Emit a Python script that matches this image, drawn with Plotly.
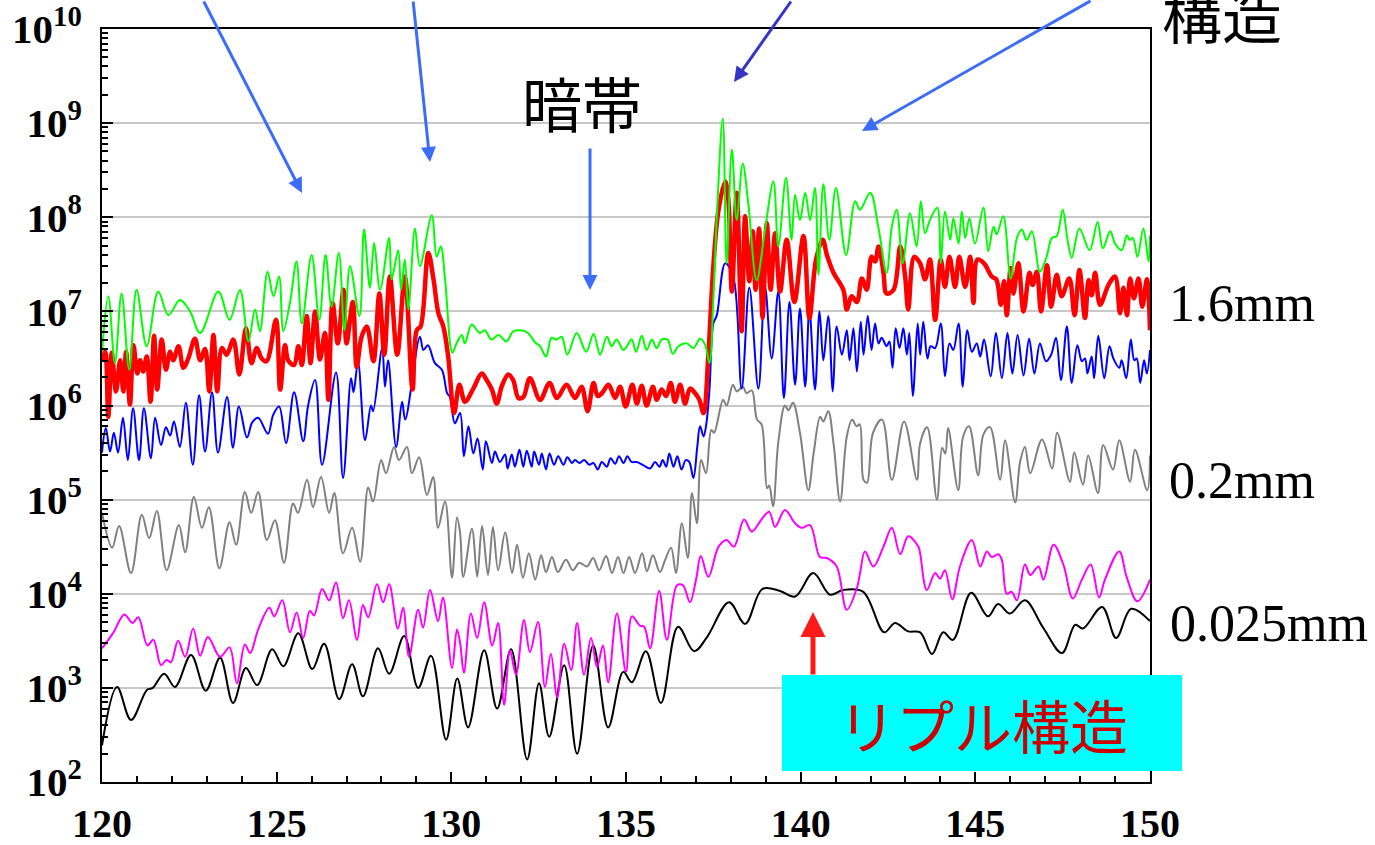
import plotly.graph_objects as go

# Readings as (x, log10 intensity) pairs, x = angle on the horizontal axis
green_pts = [
    (120.0, 6.56), (120.18, 7.16), (120.37, 6.45), (120.56, 7.19), (120.78, 6.38), (120.99, 7.23),
    (121.28, 6.63), (121.61, 7.21), (121.90, 6.96), (122.23, 7.12), (122.52, 7.0), (122.81, 6.77),
    (123.33, 7.21), (123.65, 6.91), (123.95, 7.23), (124.19, 6.68), (124.38, 7.02), (124.52, 6.79),
    (124.74, 7.42), (124.91, 7.16), (125.07, 7.37), (125.19, 6.79), (125.38, 7.09), (125.57, 7.53),
    (125.72, 6.87), (126.00, 7.60), (126.22, 6.91), (126.40, 7.60), (126.57, 7.05), (126.78, 7.62),
    (126.94, 6.80), (127.10, 7.48), (127.37, 6.95), (127.50, 7.87), (127.67, 7.25), (127.79, 7.73),
    (127.96, 7.23), (128.22, 7.78), (128.29, 7.34), (128.48, 7.65), (128.56, 7.23), (128.67, 7.55),
    (128.77, 7.02), (128.96, 7.88), (129.10, 7.48), (129.44, 8.02), (129.58, 7.58), (129.70, 7.69),
    (129.82, 7.34), (130.03, 6.56), (130.15, 6.66), (130.30, 6.75), (130.39, 6.66), (130.58, 6.86),
    (130.82, 6.77), (130.96, 6.80), (131.15, 6.70), (131.35, 6.75), (131.58, 6.68), (131.78, 6.79),
    (132.16, 6.78), (132.40, 6.67), (132.54, 6.63), (132.71, 6.52), (132.87, 6.72), (133.01, 6.70),
    (133.16, 6.73), (133.32, 6.54), (133.59, 6.77), (133.86, 6.57), (134.07, 6.76), (134.26, 6.54),
    (134.45, 6.73), (134.59, 6.63), (134.73, 6.70), (134.93, 6.59), (135.16, 6.70), (135.29, 6.57),
    (135.45, 6.74), (135.59, 6.59), (135.74, 6.70), (135.88, 6.61), (136.02, 6.70), (136.19, 6.70),
    (136.34, 6.55), (136.50, 6.63), (136.74, 6.66), (136.93, 6.61), (137.12, 6.71), (137.26, 6.65),
    (137.39, 6.45), (137.50, 7.12), (137.60, 8.01), (137.77, 9.05), (137.88, 7.51), (138.03, 8.72),
    (138.17, 7.97), (138.34, 8.57), (138.50, 8.15), (138.74, 7.33), (138.98, 7.87), (139.22, 8.38),
    (139.36, 7.69), (139.58, 8.42), (139.74, 7.76), (139.84, 8.24), (139.98, 7.97), (140.13, 8.26),
    (140.27, 7.97), (140.41, 8.31), (140.51, 7.39), (140.65, 8.35), (140.82, 7.76), (141.01, 8.31),
    (141.30, 7.60), (141.56, 8.17), (141.70, 8.08), (141.99, 8.26), (142.23, 7.88), (142.46, 7.41),
    (142.61, 7.90), (142.75, 8.08), (142.92, 7.51), (143.13, 8.04), (143.32, 7.69), (143.44, 8.17),
    (143.56, 7.83), (143.70, 7.97), (143.91, 8.10), (144.01, 7.51), (144.13, 8.06), (144.28, 7.76),
    (144.37, 7.99), (144.52, 7.72), (144.61, 8.06), (144.71, 7.78), (144.83, 7.99), (144.99, 7.72),
    (145.23, 8.10), (145.37, 7.64), (145.52, 7.90), (145.61, 7.82), (145.80, 8.01), (146.01, 7.35),
    (146.19, 7.78), (146.33, 7.87), (146.47, 7.76), (146.62, 7.85), (146.85, 7.42), (147.04, 7.58),
    (147.19, 7.78), (147.33, 7.80), (147.50, 8.08), (147.64, 7.76), (147.76, 7.57), (147.98, 7.88),
    (148.27, 7.65), (148.50, 7.95), (148.65, 7.67), (148.86, 7.85), (149.00, 7.72), (149.19, 7.65),
    (149.34, 7.81), (149.41, 7.76), (149.51, 7.78), (149.64, 7.58), (149.81, 7.88), (149.96, 7.53),
    (150.0, 7.80),
]

red_pts = [
    (120.0, 6.48), (120.09, 6.57), (120.18, 5.88), (120.28, 6.56), (120.40, 6.15), (120.52, 6.48),
    (120.61, 6.15), (120.69, 6.57), (120.80, 6.01), (120.90, 6.64), (121.01, 6.34), (121.09, 6.48),
    (121.18, 6.36), (121.28, 6.52), (121.39, 6.04), (121.49, 6.74), (121.58, 6.17), (121.71, 6.70),
    (121.83, 6.38), (121.95, 6.57), (122.04, 6.48), (122.19, 6.63), (122.33, 6.40), (122.47, 6.50),
    (122.66, 6.71), (122.81, 6.48), (122.95, 6.60), (123.07, 6.15), (123.19, 6.75), (123.30, 6.15),
    (123.43, 6.61), (123.57, 6.54), (123.76, 6.70), (123.93, 6.33), (124.12, 6.82), (124.28, 6.45),
    (124.43, 6.61), (124.57, 6.50), (124.71, 6.47), (124.98, 6.91), (125.10, 6.17), (125.24, 6.64),
    (125.33, 6.48), (125.50, 6.43), (125.62, 6.63), (125.72, 6.43), (125.86, 6.95), (125.97, 6.45),
    (126.10, 7.00), (126.24, 6.49), (126.38, 6.77), (126.48, 6.06), (126.60, 7.09), (126.75, 6.66),
    (126.91, 7.23), (127.00, 6.66), (127.18, 7.10), (127.29, 6.41), (127.43, 6.73), (127.58, 6.84),
    (127.77, 6.47), (127.94, 7.19), (128.08, 6.54), (128.24, 7.37), (128.45, 6.54), (128.67, 7.37),
    (128.89, 6.17), (129.01, 6.80), (129.12, 6.84), (129.34, 7.62), (129.49, 7.34), (129.63, 6.98),
    (129.77, 6.84), (129.91, 6.52), (130.08, 5.92), (130.23, 6.22), (130.39, 6.04), (130.63, 6.18),
    (130.87, 6.34), (131.01, 6.27), (131.16, 6.17), (131.30, 6.02), (131.44, 6.20), (131.63, 6.33),
    (131.77, 6.27), (131.92, 6.08), (132.06, 6.09), (132.25, 6.29), (132.54, 6.06), (132.81, 6.24),
    (133.02, 6.08), (133.30, 6.22), (133.54, 6.08), (133.73, 6.20), (133.90, 5.94), (134.07, 6.24),
    (134.19, 6.10), (134.31, 6.13), (134.50, 6.22), (134.69, 6.08), (134.83, 6.20), (134.99, 5.99),
    (135.18, 6.22), (135.31, 6.02), (135.45, 6.21), (135.59, 6.00), (135.77, 6.20), (135.88, 6.06),
    (136.02, 6.17), (136.15, 6.10), (136.28, 6.24), (136.40, 6.04), (136.55, 6.22), (136.69, 6.02),
    (136.83, 6.18), (136.98, 6.13), (137.10, 6.06), (137.22, 5.92), (137.36, 6.56), (137.50, 7.48),
    (137.65, 8.08), (137.84, 8.38), (137.93, 8.18), (138.03, 7.21), (138.17, 8.26), (138.31, 6.79),
    (138.41, 8.01), (138.53, 7.32), (138.63, 7.85), (138.71, 7.23), (138.81, 7.88), (138.91, 6.93),
    (139.03, 7.94), (139.14, 7.23), (139.27, 7.83), (139.41, 7.21), (139.60, 7.76), (139.82, 7.10),
    (140.08, 7.80), (140.25, 6.93), (140.44, 7.55), (140.63, 7.76), (140.75, 7.60), (140.94, 7.41),
    (141.22, 7.23), (141.32, 7.02), (141.46, 7.16), (141.61, 7.10), (141.75, 7.35), (141.89, 7.23),
    (142.03, 7.58), (142.13, 7.53), (142.23, 7.69), (142.37, 7.41), (142.46, 7.19), (142.66, 7.23),
    (142.85, 7.69), (142.99, 7.37), (143.08, 7.02), (143.25, 7.58), (143.42, 7.51), (143.56, 7.34),
    (143.70, 7.55), (143.85, 6.91), (144.01, 7.55), (144.13, 7.26), (144.26, 7.58), (144.42, 7.26),
    (144.54, 7.58), (144.71, 7.26), (144.85, 7.58), (144.95, 7.09), (145.06, 7.55), (145.25, 7.51),
    (145.47, 7.37), (145.60, 7.34), (145.73, 7.07), (145.82, 7.32), (145.90, 6.96), (146.01, 7.46),
    (146.09, 7.19), (146.23, 7.51), (146.38, 7.00), (146.55, 7.41), (146.64, 7.28), (146.76, 7.42),
    (146.88, 7.00), (147.05, 7.49), (147.17, 7.05), (147.33, 7.39), (147.47, 7.16), (147.69, 7.35),
    (147.84, 6.96), (147.98, 7.44), (148.14, 6.93), (148.24, 7.33), (148.33, 7.17), (148.43, 7.41),
    (148.57, 7.07), (148.81, 7.28), (149.00, 7.37), (149.14, 6.98), (149.24, 7.25), (149.34, 6.96),
    (149.43, 7.35), (149.54, 7.14), (149.67, 7.35), (149.78, 7.05), (149.91, 7.34), (150.0, 6.80),
]

blue_pts = [
    (120.0, 5.50), (120.11, 5.76), (120.23, 5.51), (120.34, 5.71), (120.46, 5.50), (120.6, 5.87),
    (120.74, 5.42), (120.89, 5.97), (121.06, 5.42), (121.2, 5.97), (121.4, 5.44), (121.52, 5.87),
    (121.69, 5.58), (121.83, 5.77), (121.95, 5.68), (122.06, 5.83), (122.23, 5.56), (122.4, 6.03),
    (122.6, 5.37), (122.78, 6.11), (122.95, 5.51), (123.15, 6.14), (123.32, 5.50), (123.58, 6.09),
    (123.75, 5.55), (123.92, 5.99), (124.15, 5.66), (124.3, 5.82), (124.47, 5.87), (124.75, 5.70),
    (124.9, 5.90), (125.07, 5.99), (125.27, 5.60), (125.5, 6.14), (125.76, 5.62), (125.9, 6.0),
    (126.1, 6.27), (126.3, 5.37), (126.7, 6.35), (126.9, 5.23), (127.13, 6.29), (127.2, 6.14),
    (127.33, 6.46), (127.53, 5.63), (127.7, 6.0), (127.76, 5.94), (128.02, 6.61), (128.1, 6.2),
    (128.19, 6.48), (128.42, 5.56), (128.59, 6.04), (128.68, 5.85), (129.1, 6.73), (129.2, 6.59),
    (129.33, 6.64), (129.53, 6.45), (129.73, 6.38), (129.88, 6.13), (129.96, 6.09), (130.1, 5.81),
    (130.25, 5.92), (130.36, 5.46), (130.49, 5.78), (130.63, 5.49), (130.75, 5.65), (130.90, 5.32),
    (130.99, 5.62), (131.16, 5.39), (131.25, 5.51), (131.39, 5.40), (131.54, 5.48), (131.61, 5.33),
    (131.73, 5.48), (131.82, 5.35), (131.95, 5.53), (132.06, 5.35), (132.16, 5.52), (132.30, 5.35),
    (132.37, 5.51), (132.51, 5.37), (132.59, 5.49), (132.71, 5.32), (132.81, 5.49), (132.94, 5.37),
    (133.06, 5.46), (133.21, 5.37), (133.32, 5.45), (133.45, 5.39), (133.54, 5.42), (133.67, 5.39),
    (133.80, 5.42), (133.95, 5.37), (134.07, 5.39), (134.19, 5.32), (134.31, 5.40), (134.45, 5.35),
    (134.56, 5.44), (134.69, 5.38), (134.80, 5.46), (134.93, 5.39), (135.04, 5.46), (135.16, 5.40),
    (135.31, 5.40), (135.48, 5.37), (135.69, 5.33), (135.83, 5.40), (135.96, 5.35), (136.05, 5.42),
    (136.15, 5.35), (136.24, 5.49), (136.36, 5.35), (136.47, 5.46), (136.59, 5.32), (136.71, 5.42),
    (136.81, 5.40), (136.93, 5.23), (137.04, 5.56), (137.12, 5.78), (137.22, 5.67), (137.29, 5.78),
    (137.39, 6.17), (137.50, 6.87), (137.60, 6.96), (137.84, 7.51), (138.07, 7.37), (138.31, 6.18),
    (138.53, 7.25), (138.79, 6.18), (138.98, 7.26), (139.17, 6.50), (139.36, 7.21), (139.52, 6.08),
    (139.68, 7.10), (139.84, 6.22), (139.98, 7.03), (140.13, 6.20), (140.25, 7.02), (140.41, 6.17),
    (140.54, 7.00), (140.65, 6.48), (140.79, 6.95), (140.92, 6.15), (141.03, 6.84), (141.18, 6.54),
    (141.32, 6.80), (141.40, 6.48), (141.51, 6.82), (141.61, 6.36), (141.72, 6.89), (141.80, 6.54),
    (141.92, 6.95), (142.03, 6.59), (142.13, 6.87), (142.23, 6.66), (142.32, 6.72), (142.46, 6.63),
    (142.54, 6.68), (142.63, 6.40), (142.72, 6.82), (142.83, 6.61), (142.94, 6.82), (143.04, 6.54),
    (143.11, 6.77), (143.21, 6.10), (143.35, 6.87), (143.42, 6.54), (143.51, 6.89), (143.63, 6.50),
    (143.72, 6.63), (143.85, 6.61), (144.01, 6.87), (144.13, 6.31), (144.26, 6.66), (144.37, 6.59),
    (144.52, 6.87), (144.64, 6.20), (144.77, 6.80), (144.90, 6.57), (145.04, 6.66), (145.14, 6.52),
    (145.25, 6.70), (145.44, 6.31), (145.59, 6.77), (145.76, 6.29), (145.92, 6.77), (146.06, 6.34),
    (146.21, 6.75), (146.38, 6.32), (146.54, 6.71), (146.69, 6.34), (146.85, 6.66), (147.02, 6.47),
    (147.17, 6.54), (147.31, 6.72), (147.45, 6.27), (147.62, 6.84), (147.76, 6.24), (147.92, 6.64),
    (148.05, 6.47), (148.14, 6.50), (148.21, 6.34), (148.33, 6.52), (148.40, 6.29), (148.52, 6.74),
    (148.69, 6.29), (148.84, 6.63), (148.95, 6.50), (149.12, 6.40), (149.19, 6.48), (149.32, 6.29),
    (149.45, 6.70), (149.55, 6.48), (149.62, 6.50), (149.72, 6.24), (149.83, 6.48), (149.91, 6.34),
    (150.0, 6.59),
]

gray_pts = [
    (120.0, 4.86), (120.29, 4.49), (120.49, 4.72), (120.83, 4.22), (121.14, 4.84), (121.35, 4.59),
    (121.57, 4.88), (121.85, 4.25), (122.2, 4.73), (122.38, 4.44), (122.63, 5.03), (122.86, 4.70),
    (123.06, 4.92), (123.36, 4.27), (123.65, 4.76), (123.84, 4.52), (124.09, 5.08), (124.27, 4.86),
    (124.47, 5.08), (124.72, 4.57), (124.95, 4.78), (125.21, 4.33), (125.47, 4.96), (125.61, 4.86),
    (125.87, 5.21), (126.04, 4.92), (126.27, 5.24), (126.5, 4.86), (126.65, 5.07), (126.9, 4.43),
    (127.16, 4.70), (127.39, 4.34), (127.62, 5.13), (127.76, 4.98), (127.99, 5.42), (128.13, 5.28),
    (128.36, 5.56), (128.5, 5.42), (128.73, 5.56), (128.87, 5.28), (129.08, 5.45), (129.3, 5.05),
    (129.48, 5.24), (129.62, 4.70), (129.82, 4.98), (130.02, 4.17), (130.16, 4.81), (130.25, 4.65),
    (130.34, 4.18), (130.59, 4.69), (130.74, 4.18), (130.88, 4.72), (131.05, 4.20), (131.19, 4.71),
    (131.34, 4.25), (131.54, 4.65), (131.74, 4.22), (131.88, 4.52), (132.05, 4.17), (132.22, 4.43),
    (132.4, 4.15), (132.57, 4.41), (132.71, 4.23), (132.88, 4.39), (133.05, 4.23), (133.28, 4.36),
    (133.48, 4.25), (133.66, 4.33), (133.88, 4.29), (134.06, 4.38), (134.23, 4.25), (134.43, 4.40),
    (134.6, 4.22), (134.77, 4.39), (134.93, 4.22), (135.09, 4.39), (135.26, 4.22), (135.46, 4.43),
    (135.6, 4.24), (135.77, 4.41), (135.97, 4.23), (136.12, 4.36), (136.29, 4.49), (136.43, 4.22),
    (136.6, 4.75), (136.77, 4.38), (136.89, 5.07), (137.03, 4.75), (137.15, 5.42), (137.29, 5.28),
    (137.44, 5.74), (137.52, 5.71), (137.78, 6.06), (137.88, 6.0), (138.06, 6.22), (138.17, 6.15),
    (138.35, 6.2), (138.45, 6.13), (138.6, 6.16), (138.75, 5.85), (138.88, 5.80), (139.04, 5.12),
    (139.1, 5.15), (139.21, 4.93), (139.36, 5.61), (139.55, 6.0), (139.65, 5.95), (139.78, 6.03),
    (139.98, 5.71), (140.22, 5.10), (140.37, 5.49), (140.56, 5.88), (140.65, 5.83), (140.79, 5.94),
    (140.94, 5.60), (141.13, 4.98), (141.32, 5.67), (141.47, 5.85), (141.6, 5.78), (141.69, 5.80),
    (141.8, 5.21), (141.9, 5.18), (142.07, 5.71), (142.33, 5.85), (142.61, 5.21), (142.96, 5.83),
    (143.33, 5.21), (143.42, 5.60), (143.62, 5.77), (143.9, 5.0), (144.05, 5.55), (144.14, 5.49),
    (144.22, 5.76), (144.51, 5.10), (144.65, 5.67), (144.82, 5.78), (145.08, 5.26), (145.23, 5.69),
    (145.42, 5.77), (145.71, 5.21), (145.85, 5.63), (146.14, 4.97), (146.28, 5.40), (146.42, 5.56),
    (146.57, 5.28), (146.91, 5.64), (147.2, 5.33), (147.34, 5.71), (147.71, 5.19), (147.83, 5.50),
    (148.08, 5.16), (148.23, 5.47), (148.51, 5.07), (148.66, 5.58), (148.94, 5.32), (149.12, 5.63),
    (149.43, 5.19), (149.57, 5.53), (149.92, 5.10), (150.0, 5.47),
]

magenta_pts = [
    (120.0, 3.42), (120.33, 3.59), (120.64, 3.78), (120.87, 3.69), (121.04, 3.75), (121.3, 3.45),
    (121.47, 3.51), (121.69, 3.24), (121.85, 3.30), (121.97, 3.27), (122.18, 3.50), (122.38, 3.33),
    (122.61, 3.63), (122.81, 3.34), (123.03, 3.54), (123.38, 3.33), (123.65, 3.43), (123.86, 3.05),
    (124.09, 3.46), (124.24, 3.37), (124.47, 3.62), (124.79, 3.85), (124.93, 3.76), (125.16, 3.93),
    (125.38, 3.59), (125.57, 3.80), (125.76, 3.53), (125.95, 3.82), (126.07, 3.77), (126.30, 4.05),
    (126.5, 3.93), (126.7, 4.12), (126.9, 3.74), (127.07, 3.93), (127.3, 3.51), (127.47, 3.88),
    (127.62, 3.75), (127.87, 4.10), (128.05, 3.91), (128.22, 4.10), (128.47, 3.63), (128.62, 3.85),
    (128.79, 3.33), (129.05, 3.83), (129.19, 3.64), (129.39, 4.04), (129.62, 3.71), (129.76, 3.96),
    (130.02, 3.21), (130.16, 3.62), (130.25, 3.48), (130.36, 3.16), (130.56, 3.79), (130.74, 3.53),
    (130.94, 3.91), (131.17, 3.45), (131.34, 3.69), (131.51, 2.82), (131.68, 3.40), (131.85, 3.14),
    (132.08, 3.72), (132.25, 3.38), (132.48, 3.70), (132.68, 3.01), (132.85, 3.36), (133.03, 2.90),
    (133.23, 3.47), (133.43, 3.19), (133.6, 3.69), (133.8, 3.14), (134.0, 3.53), (134.17, 3.22),
    (134.34, 3.45), (134.49, 3.06), (134.74, 3.79), (135.0, 3.17), (135.17, 3.76), (135.4, 3.66),
    (135.52, 3.65), (135.69, 3.42), (135.95, 4.03), (136.17, 3.51), (136.46, 4.09), (136.63, 4.09),
    (136.83, 3.91), (137.01, 4.16), (137.14, 4.40), (137.36, 4.18), (137.65, 4.50), (137.88, 4.57),
    (138.09, 4.50), (138.38, 4.79), (138.6, 4.66), (138.9, 4.80), (139.1, 4.87), (139.27, 4.71),
    (139.55, 4.89), (139.84, 4.75), (140.03, 4.70), (140.27, 4.73), (140.55, 4.39), (140.75, 4.38),
    (141.03, 4.29), (141.32, 3.83), (141.61, 4.06), (141.7, 4.22), (141.84, 4.45), (142.08, 4.29),
    (142.37, 4.50), (142.61, 4.70), (142.85, 4.42), (143.08, 4.61), (143.37, 4.50), (143.42, 4.43),
    (143.61, 4.04), (143.85, 4.22), (143.99, 4.16), (144.13, 4.25), (144.34, 3.94), (144.56, 4.29),
    (144.9, 4.57), (145.14, 4.29), (145.33, 4.45), (145.47, 4.39), (145.66, 4.42), (145.76, 4.36),
    (145.90, 4.0), (146.04, 4.02), (146.19, 3.93), (146.42, 4.31), (146.57, 4.20), (146.81, 4.29),
    (146.95, 4.15), (147.24, 4.52), (147.52, 4.31), (147.79, 3.95), (148.05, 4.15), (148.30, 4.31),
    (148.54, 3.96), (148.71, 4.15), (149.12, 4.45), (149.33, 4.18), (149.64, 3.92), (150.0, 4.15),
]

black_pts = [
    (120.0, 2.39), (120.43, 3.01), (120.83, 2.66), (121.29, 2.98), (121.45, 3.0), (121.78, 3.15),
    (122.09, 3.01), (122.55, 3.35), (122.97, 2.97), (123.38, 3.32), (123.75, 2.84), (124.12, 3.21),
    (124.44, 3.03), (124.87, 3.41), (125.19, 3.23), (125.62, 3.58), (126.02, 3.20), (126.36, 3.47),
    (126.79, 2.88), (127.16, 3.25), (127.47, 2.91), (127.9, 3.42), (128.22, 3.15), (128.65, 3.55),
    (129.05, 3.0), (129.42, 3.34), (129.85, 2.45), (130.17, 3.1), (130.48, 2.58), (130.94, 3.40),
    (131.31, 2.78), (131.71, 3.41), (132.17, 2.24), (132.51, 3.05), (132.8, 2.48), (133.23, 3.24),
    (133.6, 2.30), (134.06, 3.45), (134.49, 2.58), (134.92, 3.17), (135.17, 3.06), (135.57, 3.39),
    (136.0, 2.84), (136.49, 3.65), (136.95, 3.39), (137.32, 3.54), (137.95, 3.91), (138.41, 3.68),
    (138.9, 4.05), (139.41, 4.03), (139.84, 3.97), (140.36, 4.22), (140.84, 3.99), (141.21, 4.04),
    (141.79, 4.02), (142.39, 3.59), (142.7, 3.69), (143.08, 3.60), (143.42, 3.59), (143.76, 3.36),
    (144.08, 3.59), (144.36, 3.51), (144.88, 4.01), (145.36, 3.76), (145.65, 3.89), (145.99, 3.79),
    (146.42, 3.93), (146.94, 3.64), (147.48, 3.37), (147.86, 3.67), (148.08, 3.63), (148.63, 3.86),
    (149.03, 3.53), (149.46, 3.84), (150.0, 3.71),
]

decades = [2, 3, 4, 5, 6, 7, 8, 9, 10]
x_ticks = [120, 125, 130, 135, 140, 145, 150]

# drawing order: lowest curve first, thick red and green on top
curves = [
    ("0.025mm (black)", black_pts, "#000000", 2),
    ("0.025mm (magenta)", magenta_pts, "#ff00ff", 2),
    ("0.2mm (gray)", gray_pts, "#808080", 2),
    ("0.2mm (blue)", blue_pts, "#0000ff", 2),
    ("1.6mm (red)", red_pts, "#ff0000", 4.5),
    ("1.6mm (green)", green_pts, "#00ff00", 2),
]

fig = go.Figure()
for name, pts, color, width in curves:
    xs = [p[0] for p in pts]
    ys = [10 ** p[1] for p in pts]
    fig.add_trace(go.Scatter(
        x=xs, y=ys, mode="lines", name=name,
        line=dict(color=color, width=width, shape="spline", smoothing=1.0),
        hoverinfo="skip", showlegend=False,
    ))

# plot frame in pixels: left 102, right 1150, top 29, bottom 782
L, R, T, B = 102, 1150, 29, 782


def px(p):
    return (p - L) / (R - L)


def py(p):
    return (B - p) / (B - T)


fig.update_layout(
    width=1375, height=845,
    margin=dict(l=L, r=1375 - R, t=T, b=845 - B, autoexpand=False),
    paper_bgcolor="white", plot_bgcolor="white",
    xaxis=dict(
        range=[120, 150], tickmode="array", tickvals=x_ticks,
        ticktext=[str(v) for v in x_ticks],
        ticks="inside", ticklen=10, tickwidth=1.5, tickcolor="black",
        minor=dict(tick0=120, dtick=1, ticks="inside", ticklen=6, tickwidth=1.5, tickcolor="black"),
        showgrid=False, zeroline=False,
        showline=True, linecolor="black", linewidth=2, mirror=True,
        tickfont=dict(family="Liberation Serif", size=40, color="black", weight="bold"),
        ticklabelstandoff=5,
    ),
    yaxis=dict(
        type="log", range=[2, 10], tickmode="array",
        tickvals=[10 ** d for d in decades],
        ticktext=["10<sup>%d</sup>" % d for d in decades],
        ticks="inside", ticklen=11, tickwidth=1.5, tickcolor="black",
        minor=dict(dtick="D1", ticks="inside", ticklen=6, tickwidth=1.5, tickcolor="black", showgrid=False),
        showgrid=True, gridcolor="#c8c8c8", gridwidth=1.5, zeroline=False,
        showline=True, linecolor="black", linewidth=2, mirror=True,
        tickfont=dict(family="Liberation Serif", size=41, color="black", weight="bold"),
        ticklabelstandoff=10,
    ),
)

blue_arrow = "#3d6cf5"
arrows = [
    # (head x, head y, tail x, tail y, color, width)
    (302, 193, 203, -5, blue_arrow, 3),
    (430, 162, 413, -5, blue_arrow, 3),
    (734, 82, 792, -5, "#3535c8", 3),
    (862, 131, 1092, -4, blue_arrow, 3),
    (590, 290, 590, 147, blue_arrow, 3),
    (813, 612, 813, 676, "#ff1a1a", 5),
]
for hx, hy, tx, ty, color, w in arrows:
    fig.add_annotation(
        x=px(hx), y=py(hy), xref="paper", yref="paper",
        ax=tx - hx, ay=ty - hy, axref="pixel", ayref="pixel",
        text="", showarrow=True, arrowhead=2, arrowsize=1.0,
        arrowwidth=w, arrowcolor=color, standoff=0,
    )

# cyan label box in the lower right corner
fig.add_shape(
    type="rect", xref="paper", yref="paper", layer="above",
    x0=px(782), x1=px(1182), y0=py(771), y1=py(675),
    fillcolor="#00ffff", line=dict(width=0),
)

cjk = "Noto Sans CJK JP"
serif = "Liberation Serif"
labels = [
    ("暗帯", 582, 101, "center", cjk, 60, "black"),
    ("構造", 1222, 12, "center", cjk, 60, "black"),
    ("1.6mm", 1167, 303, "left", serif, 52, "black"),
    ("0.2mm", 1167, 480, "left", serif, 52, "black"),
    ("0.025mm", 1168, 623, "left", serif, 52, "black"),
    ("リプル構造", 983, 724, "center", cjk, 58, "#cc0000"),
]
for text, x, y, anchor, fam, size, color in labels:
    fig.add_annotation(
        x=px(x), y=py(y), xref="paper", yref="paper",
        text=text, showarrow=False, xanchor=anchor, yanchor="middle",
        font=dict(family=fam, size=size, color=color),
    )

fig.write_html("out.html")
